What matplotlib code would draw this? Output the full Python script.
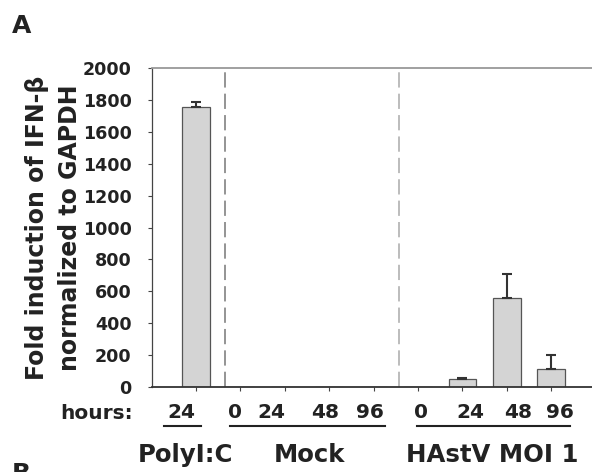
import numpy as np
import matplotlib
matplotlib.use("Agg")
import matplotlib.pyplot as plt
from matplotlib.transforms import blended_transform_factory

# data
hours = ["24", "0", "24", "48", "96", "0", "24", "48", "96"]
values = [1757, 0, 0, 0, 0, 0, 50, 558, 115]
errors = [33, 0, 0, 0, 0, 0, 6, 150, 85]
groups = ["PolyI:C", "Mock", "HAstV MOI 1"]
yticks = [0, 200, 400, 600, 800, 1000, 1200, 1400, 1600, 1800, 2000]
ylabel_lines = ["Fold induction of IFN-\u03b2", "normalized to GAPDH"]

# layout (data units along x)
label_x = [-0.33, 0.88, 1.69, 2.91, 3.92, 5.07, 6.17, 7.25, 8.20]
group_x = [-0.25, 2.55, 6.67]
group_lines = [(-0.72, 0.11), (0.77, 4.26), (4.98, 8.42)]
dividers = [(0.65, "#777777"), (4.57, "#aaaaaa")]

plt.rcParams["font.family"] = "DejaVu Sans"
plt.rcParams["font.weight"] = "bold"

fig = plt.figure(figsize=(5.92, 4.72), dpi=100)
ax = fig.add_axes([0.2563, 0.1801, 0.7437, 0.6758])

x = np.arange(len(values))
ax.bar(x, values, width=0.62, color="#d4d4d4", edgecolor="#555555", linewidth=0.9, zorder=2)

err = np.array(errors)
mask = err > 0
ax.errorbar(x[mask], np.array(values)[mask], yerr=[np.zeros(mask.sum()), err[mask]],
            fmt="none", ecolor="#333333", elinewidth=1.5, capsize=3.6, capthick=1.5, zorder=3)

for xd, col in dividers:
    ax.axvline(xd, color=col, lw=1.1, dashes=(10, 4), zorder=1)

ax.set_xlim(-1.0, 8.92)
ax.set_ylim(0, 2000)
ax.set_yticks(yticks)
ax.set_yticklabels([str(t) for t in yticks], fontsize=12.6, fontweight="bold", color="#222222")
ax.set_xticks(x)
ax.set_xticklabels([])
ax.tick_params(axis="y", direction="out", length=3, width=0.8, color="#444444", pad=11.5)
ax.tick_params(axis="x", direction="out", length=3, width=0.8, color="#444444")

ax.spines["right"].set_visible(False)
ax.spines["top"].set_color("#999999")
ax.spines["top"].set_linewidth(1.3)
ax.spines["left"].set_color("#444444")
ax.spines["left"].set_linewidth(0.9)
ax.spines["bottom"].set_color("#333333")
ax.spines["bottom"].set_linewidth(1.3)

trans = blended_transform_factory(ax.transData, ax.transAxes)
for lx, h in zip(label_x, hours):
    ax.text(lx, -0.097, h, transform=trans, ha="center", va="baseline",
            fontsize=14.5, fontweight="bold", color="#222222")
ax.text(-1.43, -0.1, "hours:", transform=trans, ha="right", va="baseline",
        fontsize=14.5, fontweight="bold", color="#222222")

for (x0, x1) in group_lines:
    ax.plot([x0, x1], [-0.121, -0.121], transform=trans, color="#222222", lw=1.5, clip_on=False)
for gx, g in zip(group_x, groups):
    ax.text(gx, -0.235, g, transform=trans, ha="center", va="baseline",
            fontsize=17.6, fontweight="bold", color="#222222")

for px, line in zip([37, 70], ylabel_lines):
    fig.text(px / 592, 1 - 228 / 472, line, rotation=90, ha="center", va="center",
             fontsize=17, fontweight="bold", color="#222222")

fig.text(12 / 592, 1 - 33 / 472, "A", fontsize=18, fontweight="bold", color="#222222", va="baseline")
fig.text(12 / 592, 1 - 481 / 472, "B", fontsize=18, fontweight="bold", color="#222222", va="baseline")

fig.savefig("out.png", dpi=100)
